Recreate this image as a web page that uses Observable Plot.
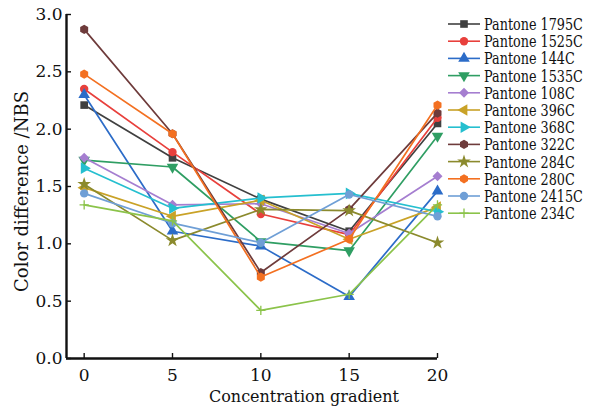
<!DOCTYPE html>
<html><head><meta charset="utf-8">
<script src="https://cdn.jsdelivr.net/npm/d3@7"></script>
<script src="https://cdn.jsdelivr.net/npm/@observablehq/plot@0.6"></script>
<style>
body{margin:0;background:#fff}
#chart{position:relative;width:590px;height:413px}
</style>
</head><body><div id="chart"></div>
<script>
// ---- data ----
const gradient = [0, 5, 10, 15, 20];
const xTicks = [0, 5, 10, 15, 20];
const yTicks = [0, 0.5, 1, 1.5, 2, 2.5, 3];
const seriesNames = ["Pantone 1795C","Pantone 1525C","Pantone 144C","Pantone 1535C","Pantone 108C","Pantone 396C","Pantone 368C","Pantone 322C","Pantone 284C","Pantone 280C","Pantone 2415C","Pantone 234C"];
const pantone1795C = [2.21, 1.75, 1.39, 1.11, 2.05];
const pantone1525C = [2.35, 1.80, 1.26, 1.08, 2.10];
const pantone144C  = [2.30, 1.11, 0.98, 0.54, 1.46];
const pantone1535C = [1.73, 1.67, 1.02, 0.94, 1.94];
const pantone108C  = [1.75, 1.34, 1.35, 1.09, 1.59];
const pantone396C  = [1.49, 1.24, 1.38, 1.04, 1.32];
const pantone368C  = [1.66, 1.31, 1.40, 1.44, 1.28];
const pantone322C  = [2.87, 1.96, 0.75, 1.30, 2.14];
const pantone284C  = [1.52, 1.03, 1.30, 1.29, 1.01];
const pantone280C  = [2.48, 1.96, 0.71, 1.04, 2.21];
const pantone2415C = [1.44, 1.18, 1.01, 1.43, 1.24];
const pantone234C  = [1.34, 1.20, 0.42, 0.56, 1.34];
const seriesValues = [pantone1795C, pantone1525C, pantone144C, pantone1535C, pantone108C, pantone396C, pantone368C, pantone322C, pantone284C, pantone280C, pantone2415C, pantone234C];
const seriesColors = ["#404040","#e8403c","#2c6cc8","#2f9e63","#a57ed0","#c9a227","#25bfcf","#6e3b3b","#8b8a2d","#f37021","#6f9fd6","#8bc34a"];
const seriesSymbolNames = ["square","circle","triangle","triangleDown","diamond","triangleLeft","triangleRight","hexagon","star","hexagon","circle","plus"];

// ---- symbols ----
function polygonSymbol(n, startAngle, areaFactor) {
  return {draw(ctx, size) {
    const r = Math.sqrt(size / areaFactor);
    for (let i = 0; i < n; i++) {
      const a = startAngle + 2 * Math.PI / n * i;
      const x = r * Math.cos(a), y = r * Math.sin(a);
      i ? ctx.lineTo(x, y) : ctx.moveTo(x, y);
    }
    ctx.closePath();
  }};
}
const af = n => n / 2 * Math.sin(2 * Math.PI / n);
const symbolMap = {
  square: polygonSymbol(4, Math.PI / 4, af(4)),
  circle: d3.symbolCircle,
  triangle: polygonSymbol(3, -Math.PI / 2, af(3)),
  triangleDown: polygonSymbol(3, Math.PI / 2, af(3)),
  triangleLeft: polygonSymbol(3, Math.PI, af(3)),
  triangleRight: polygonSymbol(3, 0, af(3)),
  diamond: polygonSymbol(4, 0, af(4)),
  hexagon: polygonSymbol(6, Math.PI / 6, af(6)),
  star: d3.symbolStar,
  plus: {draw(ctx, size) {
    const r = Math.sqrt(size) / 2;
    ctx.moveTo(-r, 0); ctx.lineTo(r, 0); ctx.moveTo(0, -r); ctx.lineTo(0, r);
  }}
};
const symbolRadius = {square: 4.3, circle: 4.2, triangle: 4.3, triangleDown: 4.3, triangleLeft: 4.3, triangleRight: 4.3, diamond: 4.0, hexagon: 4.2, star: 4.3, plus: 5.2};

// ---- marks ----
const font = "DejaVu Serif";
const xDomain = [-1, 20];
const marks = [];
seriesNames.forEach((name, i) => {
  const rows = gradient.map((g, j) => ({x: g, y: seriesValues[i][j]}));
  const sn = seriesSymbolNames[i];
  marks.push(Plot.line(rows, {x: "x", y: "y", stroke: seriesColors[i], strokeWidth: 1.7}));
  if (sn === "plus") {
    marks.push(Plot.dot(rows, {x: "x", y: "y", symbol: symbolMap[sn], r: symbolRadius[sn], fill: "none", stroke: seriesColors[i], strokeWidth: 1.3}));
  } else {
    marks.push(Plot.dot(rows, {x: "x", y: "y", symbol: symbolMap[sn], r: symbolRadius[sn], fill: seriesColors[i], stroke: "none"}));
  }
});

const plot = Plot.plot({
  width: 590, height: 413,
  marginLeft: 66, marginRight: 153, marginTop: 14, marginBottom: 55,
  style: {fontFamily: font, color: "#111", background: "#fff"},
  x: {domain: xDomain},
  y: {domain: [0, 3]},
  marks: [
    ...marks,
    Plot.axisX({ticks: xTicks, tickSize: -5, tickPadding: 15, fontSize: 17, strokeWidth: 1.4, label: null}),
    Plot.axisY({ticks: yTicks, tickFormat: d3.format(".1f"), tickSize: -5, tickPadding: 9, fontSize: 17, strokeWidth: 1.4, label: null}),
    Plot.ruleY([0], {strokeWidth: 2.4, stroke: "#111"}),
    Plot.ruleX([xDomain[0]], {strokeWidth: 2.4, stroke: "#111"}),
    Plot.text(["Concentration gradient"], {frameAnchor: "bottom", textAnchor: "middle", dx: 52, dy: 43, fontSize: 16, fill: "#111"}),
    Plot.text(["Color difference /NBS"], {frameAnchor: "left", textAnchor: "middle", rotate: -90, dx: -44, dy: 5, fontSize: 18, fill: "#111"})
  ]
});
document.getElementById("chart").appendChild(plot);

// ---- legend (drawn from the same arrays) ----
const svg = d3.select(plot);
const lg = svg.append("g").attr("font-family", font).attr("font-size", 16).attr("fill", "#111").attr("text-anchor", "start");
seriesNames.forEach((name, i) => {
  const cy = 24 + 17.2 * i;
  const sn = seriesSymbolNames[i];
  const row = lg.append("g").attr("transform", `translate(0,${cy})`);
  row.append("line").attr("x1", 448).attr("x2", 480).attr("y1", 0).attr("y2", 0)
    .attr("stroke", seriesColors[i]).attr("stroke-width", 1.6);
  const size = Math.PI * symbolRadius[sn] ** 2;
  const path = row.append("path").attr("transform", "translate(464,0)")
    .attr("d", d3.symbol(symbolMap[sn], size)());
  if (sn === "plus") path.attr("fill", "none").attr("stroke", seriesColors[i]).attr("stroke-width", 1.3);
  else path.attr("fill", seriesColors[i]);
  row.append("g").attr("transform", "translate(484,6) scale(0.8,1)")
    .append("text").attr("text-anchor", "start").text(name);
});
</script>
</body></html>
